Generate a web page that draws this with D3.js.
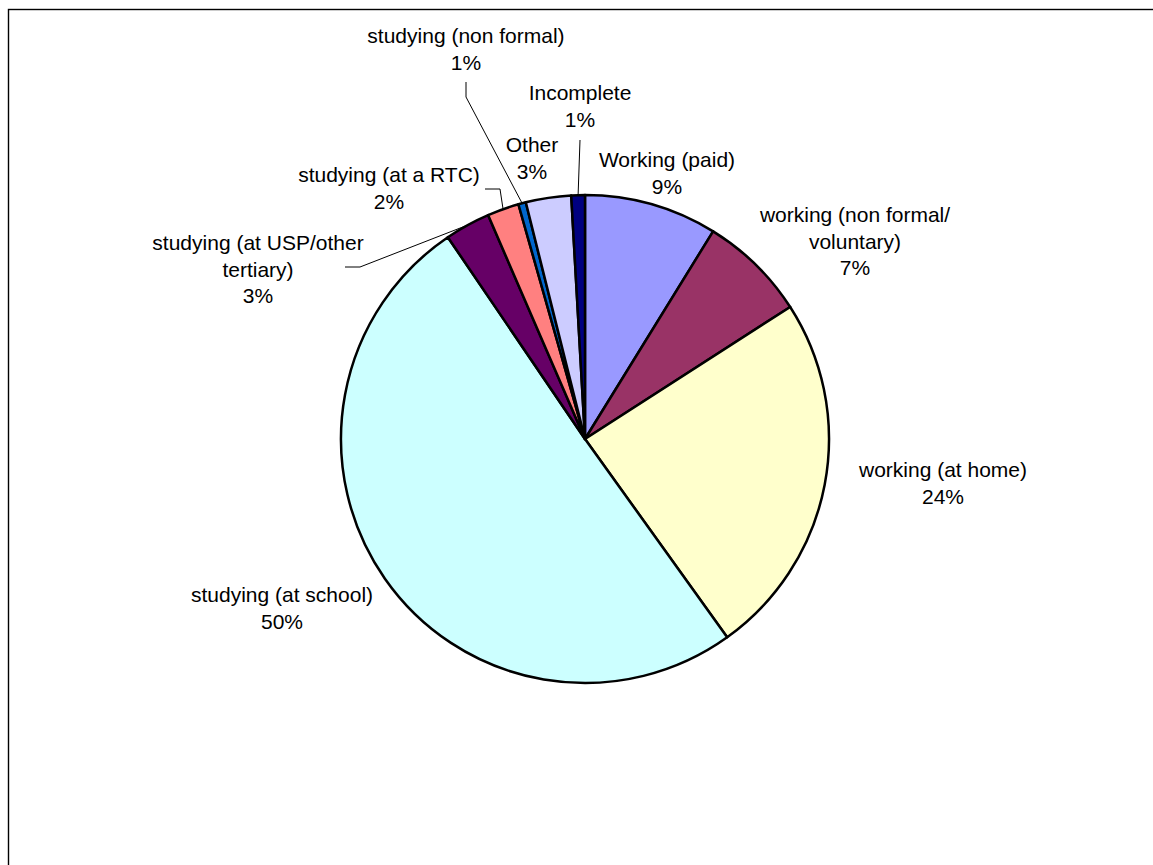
<!DOCTYPE html>
<html>
<head>
<meta charset="utf-8">
<script src="https://cdn.jsdelivr.net/npm/d3@7"></script>
<style>
  html, body { margin: 0; padding: 0; background: #fff; }
  svg { display: block; }
  text { font-family: "Liberation Sans", Arial, sans-serif; font-size: 21px; fill: #000; }
</style>
</head>
<body>
<svg id="chart" width="1153" height="865"></svg>
<script>
// Activity shares (percent), clockwise from 12 o'clock
const categories = [
  "Working (paid)",
  "working (non formal/ voluntary)",
  "working (at home)",
  "studying (at school)",
  "studying (at USP/other tertiary)",
  "studying (at a RTC)",
  "studying (non formal)",
  "Other",
  "Incomplete"
];
const shares = [8.8, 7.1, 24.2, 50.4, 3.0, 2.1, 0.5, 3.0, 0.9];
const labelLines = [
  ["Working (paid)"],
  ["working (non formal/", "voluntary)"],
  ["working (at home)"],
  ["studying (at school)"],
  ["studying (at USP/other", "tertiary)"],
  ["studying (at a RTC)"],
  ["studying (non formal)"],
  ["Other"],
  ["Incomplete"]
];
const colors = ["#9999FF", "#993366", "#FFFFCC", "#CCFFFF", "#660066",
                "#FF8080", "#0066CC", "#CCCCFF", "#000080"];

// Label placement: centre x and first baseline y of each label block
const labelPos = [
  { x: 667, y: 167 },
  { x: 855, y: 222 },
  { x: 943, y: 477 },
  { x: 282, y: 602 },
  { x: 258, y: 250 },
  { x: 389, y: 182 },
  { x: 466, y: 43 },
  { x: 532, y: 152 },
  { x: 580, y: 100 }
];
// Leader line start points (label side); the end lands on the slice's outer arc
const leaders = {
  4: [[345, 267], [360, 267]],
  5: [[485, 189], [500, 189]],
  6: [[466, 82], [466, 97]],
  8: [[580, 140]]
};

const svg = d3.select("#chart");
const cx = 585, cy = 439, radius = 244, lineStep = 26.5;

// Outer frame of the chart area
svg.append("rect")
  .attr("x", 8.5).attr("y", 9.5)
  .attr("width", 1300).attr("height", 1000)
  .attr("fill", "none").attr("stroke", "#000").attr("stroke-width", 1.4);

const total = d3.sum(shares);
const data = categories.map((c, i) => ({ name: c, value: shares[i], i }));

const pie = d3.pie().value(d => d.value).sort(null)
  .startAngle(0).endAngle(2 * Math.PI);
const arcs = pie(data);
const arc = d3.arc().innerRadius(0).outerRadius(radius);

const g = svg.append("g").attr("transform", `translate(${cx},${cy})`);
g.selectAll("path.slice")
  .data(arcs)
  .join("path")
  .attr("class", "slice")
  .attr("d", arc)
  .attr("fill", d => colors[d.data.i])
  .attr("stroke", "#000")
  .attr("stroke-width", 2.5)
  .attr("stroke-linejoin", "round");

// Leader lines
const fmt = d3.format(".0%");
arcs.forEach(a => {
  const pts = leaders[a.data.i];
  if (!pts) return;
  const mid = (a.startAngle + a.endAngle) / 2;
  const end = [cx + radius * Math.sin(mid), cy - radius * Math.cos(mid)];
  svg.append("path")
    .attr("d", d3.line()([...pts, end]))
    .attr("fill", "none")
    .attr("stroke", "#000")
    .attr("stroke-width", 1);
});

// Labels: category name lines followed by the percentage
arcs.forEach(a => {
  const i = a.data.i;
  const lines = [...labelLines[i], fmt(a.data.value / total)];
  const t = svg.append("text")
    .attr("text-anchor", "middle")
    .attr("x", labelPos[i].x)
    .attr("y", labelPos[i].y);
  lines.forEach((ln, k) => {
    t.append("tspan")
      .attr("x", labelPos[i].x)
      .attr("dy", k === 0 ? 0 : lineStep)
      .text(ln);
  });
});
</script>
</body>
</html>
